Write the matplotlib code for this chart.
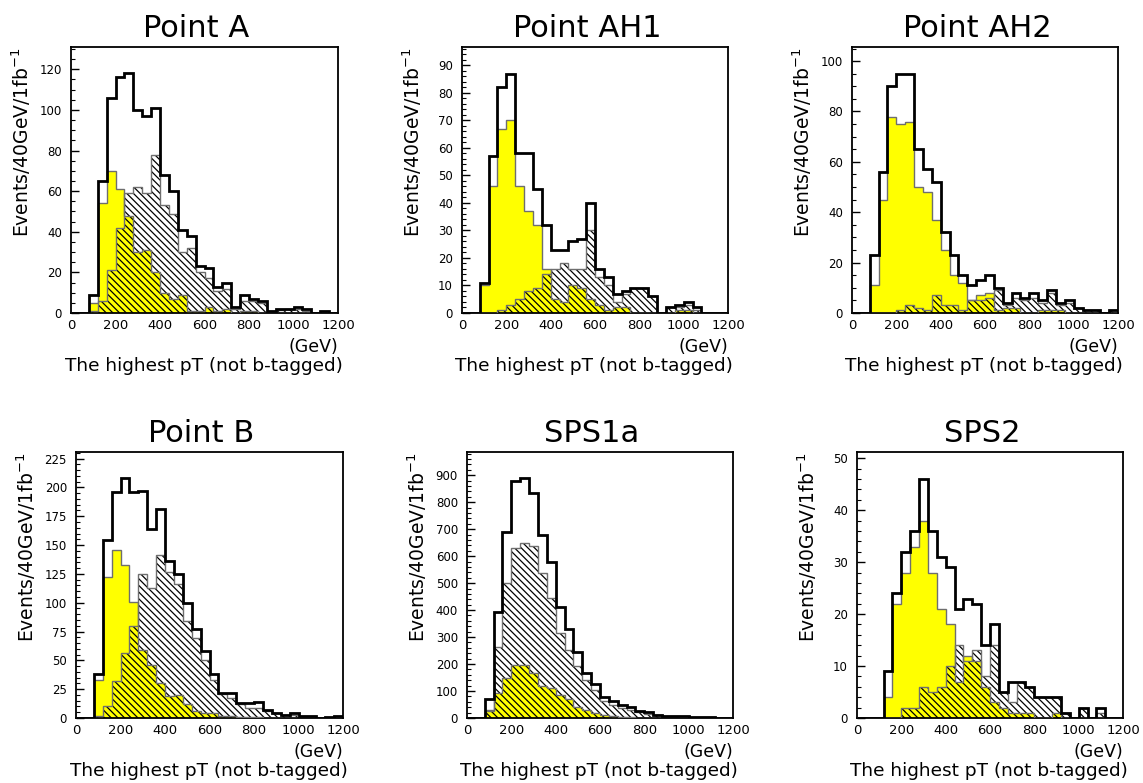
import numpy as np
import matplotlib
matplotlib.use("Agg")
import matplotlib.pyplot as plt
from matplotlib.ticker import MultipleLocator

# ---------------- data (bins of 40 GeV from 0 to 1200) ----------------
bin_edges = list(range(0, 1201, 40))

titles = ["Point A", "Point AH1", "Point AH2", "Point B", "SPS1a", "SPS2"]

total_A = [0, 0, 9, 65, 106, 116, 118, 100, 97, 101, 68, 60, 41, 38, 23, 22, 13, 15, 3, 9, 7, 6, 1, 2, 2, 3, 2, 0, 1, 0]
hatch_A = [0, 0, 1, 6, 21, 42, 59, 62, 59, 78, 53, 49, 30, 32, 20, 17, 11, 12, 2, 6, 6, 5, 1, 1.5, 2, 2, 1, 0, 1, 0]
yellow_A = [0, 0, 5, 54, 70, 61, 48, 30, 31, 20, 10, 7, 9, 1, 1, 3, 1, 2, 0, 1, 1, 0, 0, 0, 0, 0, 0, 0, 0, 0]

total_AH1 = [0, 0, 11, 57, 82, 87, 58, 58, 45, 32, 23, 23, 26, 27, 40, 16, 13, 7, 8, 9, 9, 6, 0, 2, 3, 4, 2, 0, 0, 0]
hatch_AH1 = [0, 0, 0, 0, 1, 3, 5, 8, 9, 14, 16, 18, 16, 16, 30, 13, 10, 4, 7, 9, 9, 6, 0, 2, 2, 3, 1, 0, 0, 0]
yellow_AH1 = [0, 0, 10, 46, 67, 70, 46, 37, 32, 16, 5, 4, 10, 9, 5, 3, 1, 2, 2, 0, 0, 0, 0, 0, 1, 1, 0, 0, 0, 0]

total_AH2 = [0, 0, 23, 56, 90, 95, 95, 65, 57, 52, 32, 23, 15, 11, 13, 15, 10, 4, 8, 6, 8, 5, 9, 4, 5, 2, 1, 1, 0, 1]
hatch_AH2 = [0, 0, 0, 0, 0, 1, 3, 2, 1, 7, 3, 3, 1, 5, 5, 6, 9, 3, 6, 5, 6, 4, 8, 3, 4, 2, 1, 1, 0, 1]
yellow_AH2 = [0, 0, 11, 45, 78, 75, 76, 50, 48, 37, 25, 15, 12, 5, 7, 8, 1, 2, 2, 0, 0, 1, 1, 1, 0, 0, 0, 0, 0, 0]

total_B = [0, 0, 38, 154, 196, 208, 196, 197, 164, 181, 136, 125, 100, 77, 58, 38, 22, 22, 13, 13, 14, 7, 4, 3, 4, 1.5, 2, 0, 0.5, 1.5]
hatch_B = [0, 0, 2, 10, 32, 56, 80, 125, 113, 141, 127, 116, 84, 69, 50, 33, 21, 17, 12, 9, 9, 6, 4, 3, 3, 1.5, 1.5, 0, 0, 1]
yellow_B = [0, 0, 33, 122, 146, 133, 101, 59, 46, 30, 19, 20, 12, 6, 4, 4, 2, 1.5, 1, 1, 0.5, 0, 0, 0, 0, 0, 0, 0, 0, 0]

total_S1 = [0, 0, 71, 392, 690, 879, 888, 835, 678, 577, 413, 330, 244, 166, 127, 76, 62, 47, 42, 27, 21, 12, 9, 6, 6, 5, 4, 2.5, 1, 0]
hatch_S1 = [0, 0, 30, 265, 500, 632, 650, 637, 536, 444, 315, 253, 191, 142, 105, 62, 49, 37, 28, 22, 16, 10, 7, 6, 5, 4, 3, 2, 1, 0]
yellow_S1 = [0, 0, 25, 93, 148, 197, 195, 165, 118, 110, 85, 72, 42, 30, 20, 10, 6, 2, 2, 1, 1, 0, 0, 0, 0, 0, 0, 0, 0, 0]

total_S2 = [0, 0, 0, 9, 24, 32, 36, 46, 36, 31, 29, 21, 23, 22, 14, 18, 5, 7, 7, 6, 4, 4, 4, 1, 0, 2, 0, 2, 0, 0]
hatch_S2 = [0, 0, 0, 0, 0, 2, 2, 6, 5, 6, 10, 14, 11, 13, 8, 14, 5, 3, 7, 6, 4, 4, 4, 1, 0, 2, 0, 1, 0, 0]
yellow_S2 = [0, 0, 0, 4, 22, 28, 33, 38, 28, 21, 18, 7, 12, 11, 6, 3, 2, 1, 1, 1, 0, 0, 1, 0, 0, 0, 0, 0, 0, 0]

totals = [total_A, total_AH1, total_AH2, total_B, total_S1, total_S2]
hatches = [hatch_A, hatch_AH1, hatch_AH2, hatch_B, hatch_S1, hatch_S2]
yellows = [yellow_A, yellow_AH1, yellow_AH2, yellow_B, yellow_S1, yellow_S2]

y_max = [131, 96.7, 105.6, 230.7, 986, 51.2]
y_major = [20, 10, 20, 25, 100, 10]
y_minor = [5, 2, 5, 5, 20, 2]
x_ticks = [0, 200, 400, 600, 800, 1000, 1200]

ylabel_text = "Events/40GeV/1fb$^{-1}$"
xunit_text = "(GeV)"
xlabel_text = "The highest pT (not b-tagged)"

# ---------------- layout (pixel boxes) ----------------
W, H = 1143, 783
FONT = "DejaVu Sans"
plt.rcParams["font.family"] = FONT
plt.rcParams["mathtext.fontset"] = "dejavusans"
plt.rcParams["hatch.linewidth"] = 0.9

fig = plt.figure(figsize=(W / 100, H / 100), dpi=100)

# (left, top, right, bottom) in pixels
boxes = [
    (71, 47, 338, 313),
    (462, 47, 728, 313),
    (852, 47, 1118, 313),
    (76, 452, 343, 718),
    (467, 452, 733, 718),
    (857, 452, 1123, 718),
]


def fx(px):
    return px / W


def fy(py):
    return 1 - py / H


edges = np.array(bin_edges, dtype=float)
widths = np.diff(edges)

for i in range(6):
    l, t, r, b = boxes[i]
    ax = fig.add_axes([fx(l), fy(b), (r - l) / W, (b - t) / H])
    tot = np.array(totals[i], dtype=float)
    hat = np.array(hatches[i], dtype=float)
    yel = np.array(yellows[i], dtype=float)

    # yellow filled histogram
    ax.bar(edges[:-1], yel, width=widths, align="edge", color="#ffff00",
           linewidth=0, zorder=1)
    # hatched histogram (no fill)
    ax.bar(edges[:-1], hat, width=widths, align="edge", facecolor="none",
           edgecolor="black", hatch="\\\\\\\\\\", linewidth=0, zorder=2)
    # outlines
    ax.stairs(yel, edges, color="#6e6e6e", linewidth=1.0, zorder=3)
    ax.stairs(hat, edges, color="#6e6e6e", linewidth=1.0, zorder=3)
    ax.stairs(tot, edges, color="black", linewidth=2.0, zorder=4)

    ax.set_xlim(0, 1200)
    ax.set_ylim(0, y_max[i])
    ax.set_xticks(x_ticks)
    ax.yaxis.set_major_locator(MultipleLocator(y_major[i]))
    ax.yaxis.set_minor_locator(MultipleLocator(y_minor[i]))
    ax.tick_params(axis="y", which="major", direction="in", length=6,
                   width=1.0, labelsize=8.5, pad=6.5, right=False)
    ax.tick_params(axis="y", which="minor", direction="in", length=3,
                   width=0.8, right=False)
    ax.tick_params(axis="x", which="both", length=0, labelsize=9.5, pad=4)
    for s in ax.spines.values():
        s.set_linewidth(1.3)

    # title
    fig.text(fx((l + r) / 2 - 8), fy(t - 10), titles[i], ha="center",
             va="baseline", fontsize=22)
    # y label, top aligned with frame
    fig.text(fx(l - 50), fy(t), ylabel_text, rotation=90, ha="center",
             va="top", fontsize=13.5)
    # x unit and label
    fig.text(fx(r), fy(b + 39), xunit_text, ha="right", va="baseline",
             fontsize=12.5)
    fig.text(fx(r + 5), fy(b + 58), xlabel_text, ha="right", va="baseline",
             fontsize=13.3)

fig.savefig("out.png", dpi=100)
